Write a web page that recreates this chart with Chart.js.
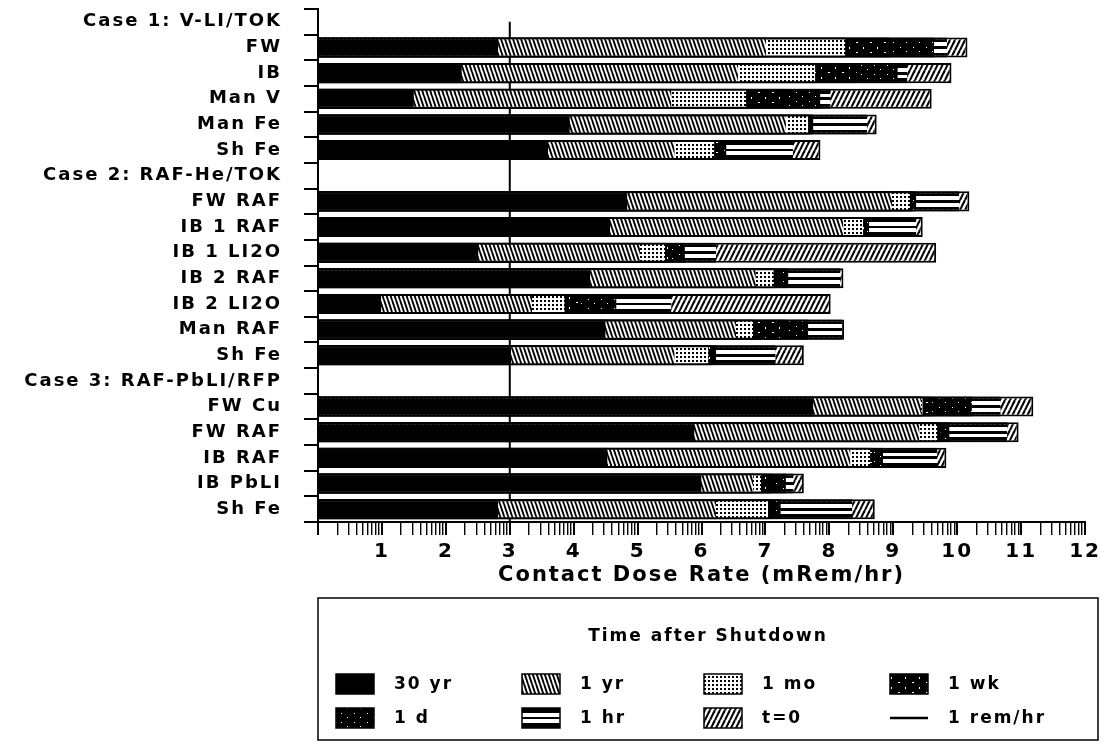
<!DOCTYPE html>
<html>
<head>
<meta charset="utf-8">
<title>Contact Dose Rate after Shutdown</title>
<script src="https://cdn.jsdelivr.net/npm/chart.js@4.4.1/dist/chart.umd.min.js"></script>
<style>
  html, body { margin: 0; padding: 0; background: #fff; }
  #wrap { width: 1106px; height: 746px; }
</style>
</head>
<body>
<div id="wrap"><canvas id="c" width="1106" height="746"></canvas></div>
<script>
// Component rows (case headers carry no bars)
const categories = [
  'Case 1: V-LI/TOK', 'FW', 'IB', 'Man V', 'Man Fe', 'Sh Fe',
  'Case 2: RAF-He/TOK', 'FW RAF', 'IB 1 RAF', 'IB 1 LI2O', 'IB 2 RAF', 'IB 2 LI2O', 'Man RAF', 'Sh Fe',
  'Case 3: RAF-PbLI/RFP', 'FW Cu', 'FW RAF', 'IB RAF', 'IB PbLI', 'Sh Fe'
];

// log10 of contact dose rate (mRem/hr) at each time after shutdown
const dose30yr = [null, 2.82, 2.25, 1.50, 3.94, 3.60, null, 4.84, 4.57, 2.51, 4.26, 0.99, 4.50, 3.02, null, 7.75, 5.89, 4.53, 6.00, 2.82];
const dose1yr  = [null, 7.01, 6.57, 5.53, 7.32, 5.58, null, 8.98, 8.22, 5.04, 6.85, 3.35, 6.54, 5.58, null, 9.44, 9.41, 8.33, 6.81, 6.23];
const dose1mo  = [null, 8.25, 7.78, 6.70, 7.67, 6.20, null, 9.26, 8.53, 5.43, 7.13, 3.86, 6.81, 6.11, null, 9.46, 9.69, 8.64, 6.93, 7.04];
const dose1wk  = [null, 8.95, 8.43, 7.32, 7.72, 6.29, null, 9.30, 8.57, 5.50, 7.19, 4.12, 7.32, 6.17, null, 9.61, 9.74, 8.68, 7.09, 7.10];
const dose1d   = [null, 9.64, 9.07, 7.86, 7.75, 6.39, null, 9.36, 8.62, 5.74, 7.36, 4.67, 7.67, 6.23, null, 10.23, 9.88, 8.84, 7.32, 7.24];
const dose1hr  = [null, 9.84, 9.22, 8.02, 8.59, 7.43, null, 10.03, 9.36, 6.23, 8.17, 5.53, 8.20, 7.16, null, 10.68, 10.78, 9.69, 7.44, 8.36];
const doseT0   = [null, 10.16, 9.91, 9.60, 8.74, 7.86, null, 10.19, 9.46, 9.67, 8.22, 8.02, 8.23, 7.60, null, 11.19, 10.96, 9.83, 7.60, 8.71];

const timeLabels = ['30 yr', '1 yr', '1 mo', '1 wk', '1 d', '1 hr', 't=0'];
const decades = [0, 1, 2, 3, 4, 5, 6, 7, 8, 9, 10, 11, 12];
const REM_LINE = 3;            // 1 rem/hr = 10^3 mRem/hr
const REM_LABEL = '1 rem/hr';
const LEGEND_TITLE = 'Time after Shutdown';
const AXIS_TITLE = 'Contact Dose Rate (mRem/hr)';

const FONT = 'DejaVu Sans';
const BAR_FRAC = 0.78;

const canvas = document.getElementById('c');
const ctx = canvas.getContext('2d');

// ---- fill patterns ----
function tile(w, h, draw) {
  const t = document.createElement('canvas');
  t.width = w; t.height = h;
  draw(t.getContext('2d'), w, h);
  return ctx.createPattern(t, 'repeat');
}
function hatch(back, w, h, lw) {
  return tile(w, h, (g) => {
    g.fillStyle = '#fff'; g.fillRect(0, 0, w, h);
    g.strokeStyle = '#000'; g.lineWidth = lw;
    for (const dx of [-w, 0, w]) {
      g.beginPath();
      if (back) { g.moveTo(dx, 0); g.lineTo(dx + w, h); }
      else { g.moveTo(dx, h); g.lineTo(dx + w, 0); }
      g.stroke();
    }
  });
}
const fillYear = hatch(true, 4, 12, 1.9);
const fillT0 = hatch(false, 5, 10, 2.1);
const fillMonth = tile(4, 4, (g) => {
  g.fillStyle = '#fff'; g.fillRect(0, 0, 4, 4);
  g.fillStyle = '#000'; g.fillRect(0, 0, 2, 2);
});
const fillWeek = tile(14, 10, (g) => {
  g.fillStyle = '#000'; g.fillRect(0, 0, 14, 10);
  g.fillStyle = '#fff';
  g.fillRect(2, 2, 2, 1); g.fillRect(9, 7, 1, 2);
});
const fillDay = tile(13, 9, (g) => {
  g.fillStyle = '#000'; g.fillRect(0, 0, 13, 9);
  g.fillStyle = '#fff';
  g.fillRect(3, 2, 1, 1); g.fillRect(9, 6, 1, 1);
});

// double white stripe ("=") fill, aligned to a box
function hourStripes(g, top, h) {
  const gr = g.createLinearGradient(0, top, 0, top + h);
  [[0, '#000'], [0.24, '#000'], [0.24, '#fff'], [0.43, '#fff'], [0.43, '#000'],
   [0.57, '#000'], [0.57, '#fff'], [0.76, '#fff'], [0.76, '#000'], [1, '#000']]
    .forEach(([o, c]) => gr.addColorStop(o, c));
  return gr;
}
function hourFill(c) {
  const y = c.chart.scales && c.chart.scales.y;
  if (!y || c.dataIndex === undefined) return '#000';
  const band = y.height / categories.length;
  const h = band * BAR_FRAC;
  const yc = y.getPixelForValue(c.dataIndex);
  if (!isFinite(yc) || !isFinite(h) || h <= 0) return '#000';
  return hourStripes(c.chart.ctx, yc - h / 2, h);
}

const edge = { top: 2, bottom: 2, left: 0, right: 0 };
function series(label, data, fill, border) {
  return {
    label, data,
    backgroundColor: fill,
    borderColor: '#000',
    borderWidth: border || edge,
    borderSkipped: false,
    barPercentage: BAR_FRAC,
    categoryPercentage: 1
  };
}

// first dataset is drawn on top
const datasets = [
  series(timeLabels[0], dose30yr, '#000'),
  series(timeLabels[1], dose1yr, fillYear),
  series(timeLabels[2], dose1mo, fillMonth),
  series(timeLabels[3], dose1wk, fillWeek),
  series(timeLabels[4], dose1d, fillDay),
  series(timeLabels[5], dose1hr, hourFill),
  series(timeLabels[6], doseT0, fillT0, { top: 2, bottom: 2, left: 0, right: 2 })
];

// wide lettering for all chart text
const spacing = {
  id: 'spacing',
  beforeLayout(chart) { chart.ctx.letterSpacing = '2px'; },
  beforeDraw(chart) { chart.ctx.letterSpacing = '2px'; }
};

// 1 rem/hr reference line
const remLine = {
  id: 'remLine',
  beforeDatasetsDraw(chart) {
    const g = chart.ctx;
    const x = chart.scales.x.getPixelForValue(REM_LINE);
    const y0 = chart.scales.y.getPixelForValue(0);
    g.save();
    g.strokeStyle = '#000';
    g.lineWidth = 2;
    g.beginPath();
    g.moveTo(x, y0);
    g.lineTo(x, chart.chartArea.bottom);
    g.stroke();
    g.restore();
  }
};

// boxed legend below the axis
const legendBox = {
  id: 'legendBox',
  afterDraw(chart) {
    const g = chart.ctx;
    const left = chart.chartArea.left;
    const right = chart.width - 8;
    const top = chart.scales.x.bottom + 10;
    const bottom = chart.height - 6;
    g.save();
    g.letterSpacing = '2px';
    g.strokeStyle = '#000';
    g.lineWidth = 1.5;
    g.strokeRect(left, top, right - left, bottom - top);

    g.fillStyle = '#000';
    g.font = 'bold 17px "' + FONT + '"';
    g.textAlign = 'center';
    g.textBaseline = 'middle';
    g.fillText(LEGEND_TITLE, (left + right) / 2, top + 39);

    const cols = [18, 204, 386, 572];
    const rows = [86, 120];
    const sw = 38, sh = 20;
    const items = chart.data.datasets.map(d => d.label).concat([REM_LABEL]);
    g.textAlign = 'left';
    items.forEach((label, i) => {
      const x = left + cols[i % 4];
      const yc = top + rows[Math.floor(i / 4)];
      if (i < chart.data.datasets.length) {
        const ds = chart.data.datasets[i];
        const fill = typeof ds.backgroundColor === 'function'
          ? hourStripes(g, yc - sh / 2, sh) : ds.backgroundColor;
        g.fillStyle = fill;
        g.fillRect(x, yc - sh / 2, sw, sh);
        g.strokeStyle = '#000';
        g.lineWidth = 1.5;
        g.strokeRect(x, yc - sh / 2, sw, sh);
      } else {
        g.strokeStyle = '#000';
        g.lineWidth = 2.5;
        g.beginPath();
        g.moveTo(x, yc);
        g.lineTo(x + sw, yc);
        g.stroke();
      }
      g.fillStyle = '#000';
      g.fillText(label, x + 58, yc + 1);
    });
    g.restore();
  }
};

new Chart(canvas, {
  type: 'bar',
  data: { labels: categories, datasets },
  options: {
    indexAxis: 'y',
    responsive: false,
    animation: false,
    datasets: { bar: { grouped: false } },
    layout: { padding: { top: 9, right: 14, bottom: 158, left: 0 } },
    scales: {
      x: {
        type: 'linear',
        min: decades[0],
        max: decades[decades.length - 1],
        afterBuildTicks(scale) {
          const t = [];
          decades.forEach((d, i) => {
            t.push({ value: d });
            if (i < decades.length - 1) {
              for (let m = 2; m <= 9; m++) t.push({ value: d + Math.log10(m) });
            }
          });
          scale.ticks = t;
        },
        afterFit(scale) { scale.height = 66; },
        ticks: {
          autoSkip: false,
          maxRotation: 0,
          padding: 5,
          color: '#000',
          font: { family: FONT, weight: 'bold', size: 20 },
          callback: (v) => (Number.isInteger(v) && v > 0) ? String(v) : ''
        },
        grid: {
          drawOnChartArea: false,
          drawTicks: true,
          tickLength: 13,
          color: '#000',
          lineWidth: (c) => (c.tick && Number.isInteger(c.tick.value)) ? 2 : 1.4
        },
        border: { display: true, color: '#000', width: 2 },
        title: {
          display: true,
          text: AXIS_TITLE,
          color: '#000',
          font: { family: FONT, weight: 'bold', size: 21 },
          padding: { top: 0, bottom: 0 }
        }
      },
      y: {
        type: 'category',
        afterFit(scale) {
          scale.width = 318;
          scale.paddingTop = 0;
          scale.paddingBottom = 0;
        },
        ticks: {
          autoSkip: false,
          padding: 22,
          color: '#000',
          font: { family: FONT, weight: 'bold', size: 18 }
        },
        grid: {
          drawOnChartArea: false,
          drawTicks: true,
          tickLength: 14,
          color: '#000',
          lineWidth: 2
        },
        border: { display: true, color: '#000', width: 2 }
      }
    },
    plugins: {
      legend: { display: false },
      tooltip: { enabled: false }
    }
  },
  plugins: [spacing, remLine, legendBox]
});
</script>
</body>
</html>
